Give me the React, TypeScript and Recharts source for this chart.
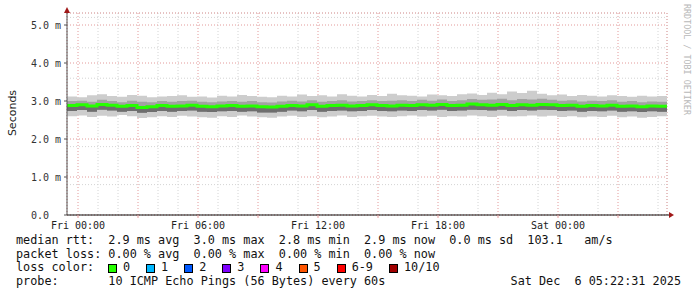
import React from "react"
import { ComposedChart, Area, Line, XAxis, YAxis, CartesianGrid } from "recharts"

// hours relative to Fri 00:00, one sample every 30 min
const HOURS = [
  -0.55, -0.05, 0.45, 0.95, 1.45, 1.95, 2.45, 2.95, 3.45, 3.95,
  4.45, 4.95, 5.45, 5.95, 6.45, 6.95, 7.45, 7.95, 8.45, 8.95,
  9.45, 9.95, 10.45, 10.95, 11.45, 11.95, 12.45, 12.95, 13.45, 13.95,
  14.45, 14.95, 15.45, 15.95, 16.45, 16.95, 17.45, 17.95, 18.45, 18.95,
  19.45, 19.95, 20.45, 20.95, 21.45, 21.95, 22.45, 22.95, 23.45, 23.95,
  24.45, 24.95, 25.45, 25.95, 26.45, 26.95, 27.45, 27.95, 28.45, 28.95,
  29.45,
]

// rtt in ms
const RTT_MED = [
  2.88, 2.90, 2.87, 2.91, 2.89, 2.86, 2.88, 2.83, 2.85, 2.88,
  2.86, 2.87, 2.89, 2.86, 2.85, 2.87, 2.88, 2.86, 2.87, 2.85,
  2.84, 2.86, 2.88, 2.87, 2.90, 2.86, 2.88, 2.89, 2.87, 2.88,
  2.90, 2.88, 2.87, 2.89, 2.88, 2.90, 2.89, 2.91, 2.88, 2.89,
  2.92, 2.90, 2.89, 2.91, 2.88, 2.90, 2.89, 2.91, 2.90, 2.88,
  2.89, 2.86, 2.88, 2.87, 2.89, 2.86, 2.87, 2.85, 2.87, 2.86,
  2.86,
]
const RTT_MAX = [
  3.12, 3.10, 3.15, 3.18, 3.13, 3.11, 3.16, 3.14, 3.10, 3.12,
  3.13, 3.15, 3.11, 3.12, 3.09, 3.14, 3.12, 3.16, 3.13, 3.11,
  3.10, 3.14, 3.12, 3.17, 3.13, 3.15, 3.12, 3.18, 3.14, 3.12,
  3.16, 3.13, 3.19, 3.15, 3.14, 3.12, 3.17, 3.15, 3.13, 3.18,
  3.20, 3.16, 3.22, 3.18, 3.25, 3.21, 3.27, 3.19, 3.15, 3.17,
  3.13, 3.16, 3.14, 3.12, 3.15, 3.13, 3.11, 3.14, 3.12, 3.13,
  3.13,
]
const RTT_MIN = [
  2.60, 2.62, 2.58, 2.61, 2.59, 2.63, 2.60, 2.55, 2.57, 2.60,
  2.58, 2.61, 2.59, 2.57, 2.56, 2.60, 2.58, 2.62, 2.59, 2.57,
  2.56, 2.59, 2.61, 2.58, 2.60, 2.57, 2.59, 2.62, 2.58, 2.60,
  2.61, 2.59, 2.58, 2.60, 2.62, 2.59, 2.61, 2.58, 2.60, 2.59,
  2.62, 2.60, 2.58, 2.61, 2.59, 2.60, 2.62, 2.59, 2.61, 2.58,
  2.60, 2.57, 2.59, 2.58, 2.61, 2.57, 2.59, 2.56, 2.58, 2.60,
  2.60,
]
const RTT_HI = [
  3.00, 3.01, 2.98, 3.03, 3.00, 2.97, 3.01, 2.98, 2.97, 3.00,
  2.98, 3.00, 3.01, 2.98, 2.97, 2.99, 3.00, 2.98, 3.00, 2.97,
  2.96, 2.99, 3.01, 2.99, 3.02, 2.98, 3.00, 3.02, 2.99, 3.00,
  3.02, 3.00, 3.01, 3.02, 3.00, 3.03, 3.01, 3.04, 3.00, 3.02,
  3.05, 3.03, 3.04, 3.06, 3.02, 3.05, 3.04, 3.06, 3.03, 3.01,
  3.02, 2.99, 3.01, 3.00, 3.02, 2.98, 3.00, 2.97, 2.99, 2.98,
  2.98,
]
const RTT_LO = [
  2.74, 2.76, 2.72, 2.77, 2.75, 2.72, 2.74, 2.69, 2.71, 2.74,
  2.72, 2.74, 2.75, 2.72, 2.71, 2.73, 2.74, 2.72, 2.73, 2.70,
  2.70, 2.72, 2.75, 2.73, 2.76, 2.72, 2.74, 2.75, 2.73, 2.74,
  2.76, 2.74, 2.73, 2.75, 2.74, 2.76, 2.75, 2.77, 2.74, 2.75,
  2.77, 2.76, 2.75, 2.77, 2.74, 2.76, 2.75, 2.77, 2.76, 2.74,
  2.75, 2.72, 2.74, 2.73, 2.75, 2.72, 2.73, 2.71, 2.73, 2.72,
  2.72,
]

const X_MAJOR = [0, 3, 6, 9, 12, 15, 18, 21, 24, 27]
const X_MINOR = [1, 2, 4, 5, 7, 8, 10, 11, 13, 14, 16, 17, 19, 20, 22, 23, 25, 26, 28, 29]
const X_LABELS: Record<number, string> = {
  0: "Fri 00:00",
  6: "Fri 06:00",
  12: "Fri 12:00",
  18: "Fri 18:00",
  24: "Sat 00:00",
}
const Y_MAJOR = [0, 1, 2, 3, 4, 5]
const Y_MINOR = [
  0.2, 0.4, 0.6, 0.8, 1.2, 1.4, 1.6, 1.8, 2.2, 2.4, 2.6, 2.8,
  3.2, 3.4, 3.6, 3.8, 4.2, 4.4, 4.6, 4.8, 5.2,
]

const LOSS_COLORS = [
  { label: "0", color: "#26ff00" },
  { label: "1", color: "#00b8ff" },
  { label: "2", color: "#0059ff" },
  { label: "3", color: "#7e00ff" },
  { label: "4", color: "#ff00ff" },
  { label: "5", color: "#ff5500" },
  { label: "6-9", color: "#ff0000" },
  { label: "10/10", color: "#a10000" },
]

const X_DOMAIN: [number, number] = [-0.55, 29.45]
const Y_DOMAIN: [number, number] = [0, 5.316]

const MONO = "'DejaVu Sans Mono', monospace"

const data = HOURS.map((t, i) => ({
  t,
  outer: [RTT_MIN[i], RTT_MAX[i]],
  mid: [RTT_LO[i], RTT_HI[i]],
  under: [RTT_LO[i], RTT_MED[i]],
  med: RTT_MED[i],
}))

// rrdtool pads the unitless zero so it stays left aligned with "x.0 m"
const fmtY = (v: number) => (v === 0 ? "0.0\u00a0\u00a0" : `${v.toFixed(1)} m`)

export default function App() {
  return (
    <div
      style={{
        position: "absolute",
        left: 0,
        top: 0,
        width: 697,
        height: 297,
        background: "#fff",
        overflow: "hidden",
      }}
    >
      <ComposedChart
        width={697}
        height={230}
        data={data}
        margin={{ top: 13, right: 30, bottom: 0, left: 0 }}
      >
        <XAxis xAxisId="minor" dataKey="t" type="number" domain={X_DOMAIN} ticks={X_MINOR} hide allowDataOverflow />
        <YAxis yAxisId="minor" type="number" domain={Y_DOMAIN} ticks={Y_MINOR} hide allowDataOverflow />
        <CartesianGrid xAxisId="minor" yAxisId="minor" stroke="#d4d4d4" strokeDasharray="1 2" />
        <CartesianGrid xAxisId="main" yAxisId="main" stroke="#e39a9a" strokeDasharray="1 2" />

        <XAxis
          xAxisId="main"
          dataKey="t"
          type="number"
          domain={X_DOMAIN}
          ticks={X_MAJOR}
          interval={0}
          allowDataOverflow
          height={15}
          tickSize={3}
          tickMargin={4}
          tickFormatter={(v: number) => X_LABELS[v] ?? ""}
          tick={{ fontFamily: MONO, fontSize: 10, fill: "#222" }}
          tickLine={{ stroke: "#e39a9a" }}
          axisLine={{ stroke: "#111" }}
        />
        <YAxis
          yAxisId="main"
          type="number"
          domain={Y_DOMAIN}
          ticks={Y_MAJOR}
          interval={0}
          allowDataOverflow
          width={67}
          tickSize={3}
          tickMargin={3}
          tickFormatter={fmtY}
          tick={{ fontFamily: MONO, fontSize: 10, fill: "#333" }}
          tickLine={{ stroke: "#555" }}
          axisLine={{ stroke: "#555" }}
        />

        <Area xAxisId="main" yAxisId="main" dataKey="outer" type="stepAfter" stroke="none" fill="#cdcdcd" fillOpacity={1} isAnimationActive={false} dot={false} activeDot={false} />
        <Area xAxisId="main" yAxisId="main" dataKey="mid" type="stepAfter" stroke="none" fill="#a2a2a2" fillOpacity={1} isAnimationActive={false} dot={false} activeDot={false} />
        <Area xAxisId="main" yAxisId="main" dataKey="under" type="stepAfter" stroke="none" fill="#6e6e6e" fillOpacity={1} isAnimationActive={false} dot={false} activeDot={false} />
        <Line xAxisId="main" yAxisId="main" dataKey="med" type="stepAfter" stroke="#26ff00" strokeWidth={3} dot={false} activeDot={false} isAnimationActive={false} />
      </ComposedChart>

      {/* axis arrows + watermark */}
      <svg width={697} height={230} style={{ position: "absolute", left: 0, top: 0, pointerEvents: "none" }}>
        <line x1={67} y1={13} x2={67} y2={9} stroke="#555" />
        <line x1={667} y1={215} x2={670} y2={215} stroke="#111" />
        <polygon points="64,13 70,13 67,7" fill="#a01818" />
        <polygon points="669,212 669,218 674,215" fill="#a01818" />
        <text transform="translate(684,4) rotate(90)" fontFamily={MONO} fontSize={8.4} fill="#b8b8b8">
          RRDTOOL / TOBI OETIKER
        </text>
      </svg>

      <div
        style={{
          position: "absolute",
          left: 12,
          top: 113,
          transform: "translate(-50%, -50%) rotate(-90deg)",
          fontFamily: "'DejaVu Sans', sans-serif",
          fontSize: 11,
          color: "#222",
          whiteSpace: "nowrap",
        }}
      >
        Seconds
      </div>

      <div
        style={{
          position: "absolute",
          left: 16,
          top: 234,
          width: 665,
          fontFamily: MONO,
          fontSize: 11.8,
          lineHeight: "13.7px",
          color: "#111",
          whiteSpace: "pre",
        }}
      >
        <div>{"median rtt:  2.9 ms avg  3.0 ms max  2.8 ms min  2.9 ms now  0.0 ms sd  103.1   am/s"}</div>
        <div>{"packet loss: 0.00 % avg  0.00 % max  0.00 % min  0.00 % now"}</div>
        <div style={{ display: "flex", alignItems: "center" }}>
          <span style={{ display: "inline-block", width: 92 }}>{"loss color:"}</span>
          {LOSS_COLORS.map((c) => (
            <span key={c.label} style={{ display: "inline-flex", alignItems: "center", marginRight: 16 }}>
              <span
                style={{
                  display: "inline-block",
                  width: 7,
                  height: 7,
                  background: c.color,
                  border: "1px solid #000",
                  marginRight: 6,
                }}
              />
              <span>{c.label}</span>
            </span>
          ))}
        </div>
        <div style={{ display: "flex", justifyContent: "space-between" }}>
          <span>{"probe:       10 ICMP Echo Pings (56 Bytes) every 60s"}</span>
          <span>{"Sat Dec  6 05:22:31 2025"}</span>
        </div>
      </div>
    </div>
  )
}
